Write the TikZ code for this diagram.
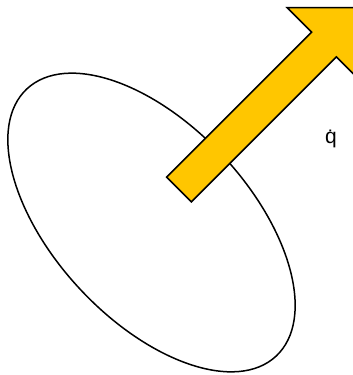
\documentclass[tikz,border=0pt]{standalone}
\usepackage{fontspec}
\setmainfont{Liberation Sans}
\begin{document}
\begin{tikzpicture}[x=1pt,y=1pt,
  outline/.style={draw=black,line width=1.5pt,line join=miter},
  bigarrow/.style={outline,fill=arrowyellow}]
\definecolor{arrowyellow}{HTML}{FFC600}
\useasboundingbox (0,0) rectangle (353,375);
\clip (0,0) rectangle (353,375);
\fill[white] (0,0) rectangle (353,375);
% ellipse
\draw[outline] (151.5,152.5) ellipse[x radius=182.7, y radius=97.7, rotate=-47];
% arrow
\draw[bigarrow] (166.6,197.9) -- (311.6,342.9) -- (287.2,367.3) -- (360.7,367.3)
  -- (360.8,293.7) -- (336.4,318.1) -- (191.4,173.1) -- cycle;
% label
\node (qdot) at (331,236) {\fontsize{21}{24}\selectfont \.{q}};
\end{tikzpicture}
\end{document}
